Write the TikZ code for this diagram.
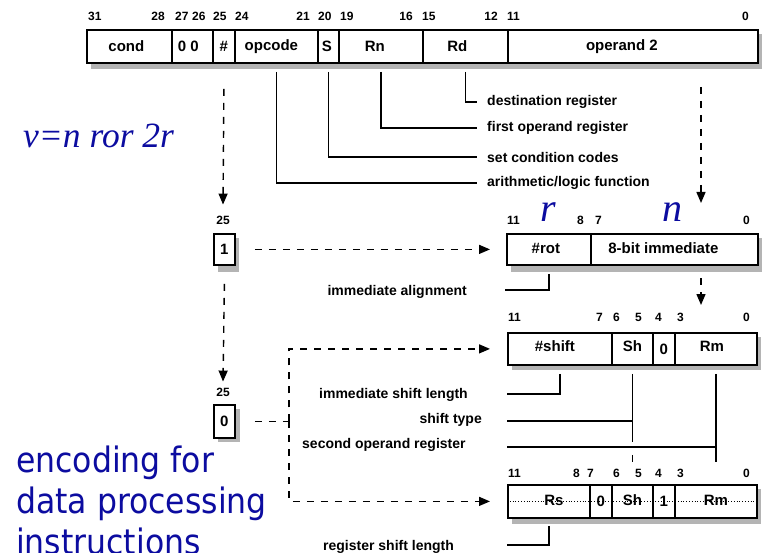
\documentclass[tikz,border=0pt]{standalone}
\usepackage{fontspec}
\setmainfont{Liberation Sans}
\newfontfamily\formulaserif{Liberation Serif}
\newfontfamily\slidesans{DejaVu Sans Condensed}
\usetikzlibrary{arrows.meta,calc}
\definecolor{slideblue}{RGB}{12,12,160}
\definecolor{shadowgrey}{RGB}{180,180,180}

\tikzset{
  fld/.style={draw, line width=1.8pt, fill=white, inner sep=0pt, anchor=north west,
    font=\fontsize{15}{17}\selectfont\bfseries},
  bit/.style={inner sep=0pt, font=\fontsize{12}{14}\selectfont\bfseries},
  ann/.style={inner sep=0pt, font=\fontsize{14}{16}\selectfont\bfseries},
  lead/.style={line width=1.4pt},
  dashlink/.style={line width=1.4pt, dash pattern=on 7pt off 7pt},
  dasharrow/.style={dashlink, -{Triangle[length=11pt,width=9pt]}},
  dropshadow/.style={fill=shadowgrey, draw=none},
  bluetext/.style={text=slideblue, inner sep=0pt},
}

\begin{document}
\begin{tikzpicture}[x=1pt,y=-1pt]
\useasboundingbox (0,0) rectangle (762,553);
\fill[white] (0,0) rectangle (762,553);

% drop shadows under the field rows
\fill[dropshadow] (91,34) rectangle (762,69);
\fill[dropshadow] (511,238) rectangle (762,272);
\fill[dropshadow] (218,238) rectangle (239,272);
\fill[dropshadow] (218,409) rectangle (240,442);
\fill[dropshadow] (512,337) rectangle (761,370);
\fill[dropshadow] (512,489) rectangle (761,524);

% instruction word
\node[fld,minimum width=85pt,minimum height=33pt]  (cond)  at (86,29)  {cond\hspace*{6pt}};
\node[fld,minimum width=41pt,minimum height=33pt]  (zz)    at (171,29) {0 0\hspace*{8pt}};
\node[fld,minimum width=22pt,minimum height=33pt]  (hash)  at (212,29) {\#};
\node[fld,minimum width=83pt,minimum height=33pt]  (opc)   at (234,29) {opcode\hspace*{10pt}};
\node[fld,minimum width=21pt,minimum height=33pt]  (sbit)  at (317,29) {S\hspace*{3pt}};
\node[fld,minimum width=84pt,minimum height=33pt]  (rn)    at (338,29) {Rn\hspace*{12pt}};
\node[fld,minimum width=85pt,minimum height=33pt]  (rd)    at (422,29) {Rd\hspace*{16pt}};
\node[fld,minimum width=250pt,minimum height=33pt] (optwo) at (507,29) {operand 2\hspace*{22pt}};

\node[bit,anchor=west] (t31) at (88,16)  {31};
\node[bit,anchor=east] (t28) at (165,16) {28};
\node[bit,anchor=west] (t27) at (175,16) {27};
\node[bit,anchor=west] (t26) at (192,16) {26};
\node[bit,anchor=west] (t25) at (213,16) {25};
\node[bit,anchor=west] (t24) at (235,16) {24};
\node[bit,anchor=east] (t21) at (310,16) {21};
\node[bit,anchor=west] (t20) at (318,16) {20};
\node[bit,anchor=west] (t19) at (340,16) {19};
\node[bit,anchor=east] (t16) at (413,16) {16};
\node[bit,anchor=west] (t15) at (422,16) {15};
\node[bit,anchor=east] (t12) at (498,16) {12};
\node[bit,anchor=west] (t11) at (507,16) {11};
\node[bit,anchor=east] (t0)  at (749,16) {0};

% field descriptions
\node[ann,anchor=west] (lblDest)  at (487,102) {destination register};
\node[ann,anchor=west] (lblFirst) at (487,128) {first operand register};
\node[ann,anchor=west] (lblSetcc) at (487,157) {set condition codes};
\node[ann,anchor=west] (lblAlu)   at (487,183) {arithmetic/logic function};
\coordinate (ldDest)  at (477,102);
\coordinate (ldFirst) at (477,128);
\coordinate (ldSetcc) at (477,157);
\coordinate (ldAlu)   at (477,183);
\draw[lead] ([yshift=-8pt]rd.south)   |- (ldDest);
\draw[lead] ([yshift=-8pt]rn.south)   |- (ldFirst);
\draw[lead] ([yshift=-8pt]sbit.south) |- (ldSetcc);
\draw[lead] ([yshift=-8pt]opc.south)  |- (ldAlu);

% formula
\node[bluetext,anchor=base west,font=\formulaserif\itshape\fontsize{35.5}{40}\selectfont]
  (formula) at (23,148) {v=n ror 2r};

% immediate operand
\node[fld,minimum width=21pt,minimum height=31pt] (one) at (213,233) {1};
\node[bit] (i25) at (223,220) {25};
\node[fld,minimum width=84pt,minimum height=31pt]  (rot) at (506,233) {\raisebox{3pt}{\#rot}\hspace*{6pt}};
\node[fld,minimum width=167pt,minimum height=31pt] (imm) at (590,233) {\raisebox{3pt}{8-bit immediate}\hspace*{22pt}};
\node[bit,anchor=west] (r11) at (507,220) {11};
\node[bit,anchor=east] (r8)  at (584,220) {8};
\node[bit,anchor=west] (r7)  at (595,220) {7};
\node[bit,anchor=east] (r0)  at (750,220) {0};
\node[bluetext,anchor=base,font=\formulaserif\itshape\fontsize{40}{44}\selectfont] (rsym) at (548,222) {r};
\node[bluetext,anchor=base,font=\formulaserif\itshape\fontsize{40}{44}\selectfont] (nsym) at (672,222) {n};

\coordinate (opdrop) at (701,87);
\coordinate (opland) at (701,203);
\draw[dasharrow] ([yshift=-25pt]hash.south) -- ([yshift=11pt]i25.north);
\draw[dasharrow] (opdrop) -- (opland);
\draw[dasharrow] ([xshift=19pt]one.east) -- ([xshift=-16pt]rot.west);

\node[ann,anchor=east] (lblAlign) at (467,292) {immediate alignment};
\coordinate (ldAlign) at (505,290);
\draw[lead] ([yshift=-8pt]rot.south) |- (ldAlign);

\coordinate (immdrop) at (701,278);
\coordinate (immland) at (701,305);
\draw[dasharrow] (immdrop) -- (immland);

% register operand, immediate shift
\node[fld,minimum width=104pt,minimum height=32pt] (shiftamt) at (507,332) {\raisebox{5pt}{\#shift}\hspace*{10pt}};
\node[fld,minimum width=41pt,minimum height=32pt]  (sh)       at (611,332) {\raisebox{5pt}{Sh}};
\node[fld,minimum width=22pt,minimum height=32pt]  (zbit)     at (652,332) {\raisebox{-2pt}{0}};
\node[fld,minimum width=82pt,minimum height=32pt]  (rm)       at (674,332) {\raisebox{5pt}{Rm}\hspace*{8pt}};
\node[bit,anchor=west] (s11) at (508,317) {11};
\node[bit,anchor=east] (s7)  at (603,317) {7};
\node[bit,anchor=west] (s6)  at (613,317) {6};
\node[bit,anchor=west] (s5)  at (635,317) {5};
\node[bit,anchor=west] (s4)  at (655,317) {4};
\node[bit,anchor=west] (s3)  at (677,317) {3};
\node[bit,anchor=east] (s0)  at (750,317) {0};

\node[ann,anchor=west] (lblImmShift) at (319,395) {immediate shift length};
\node[ann,anchor=east] (lblShType)   at (482,420) {shift type};
\node[ann,anchor=west] (lblSecond)   at (302,445) {second operand register};
\coordinate (ldImmShift) at (507,394);
\coordinate (ldShType)   at (507,421);
\coordinate (ldSecond)   at (507,447);
\draw[lead] ([yshift=-8pt]shiftamt.south) |- (ldImmShift);
\draw[lead] ([yshift=-8pt]sh.south) -- ([yshift=-76pt]sh.south);
\draw[lead] ([yshift=-89pt]sh.south) -- ([yshift=-96pt]sh.south);
\draw[lead] (ldShType) -- (ldShType -| sh.south);
\draw[lead] ([yshift=-8pt]rm.south) -- ([yshift=-96pt]rm.south);
\draw[lead] (ldSecond) -- (ldSecond -| rm.south);

% register operand, register shift
\node[fld,minimum width=21pt,minimum height=33pt] (zero) at (213,404) {0};
\node[bit] (z25) at (223,392) {25};
\draw[dasharrow] ([yshift=-18pt]one.south) -- ([yshift=6pt]z25.north);

\node[fld,minimum width=82pt,minimum height=33pt] (rs)   at (507,484) {\hspace*{10pt}\raisebox{2pt}{Rs}};
\node[fld,minimum width=22pt,minimum height=33pt] (zthr) at (589,484) {0};
\node[fld,minimum width=41pt,minimum height=33pt] (shr)  at (611,484) {\raisebox{2pt}{Sh}};
\node[fld,minimum width=22pt,minimum height=33pt] (othr) at (652,484) {1};
\node[fld,minimum width=82pt,minimum height=33pt] (rmr)  at (674,484) {\raisebox{2pt}{Rm}};
\draw[line width=0.8pt, dotted] (rs.west) -- (rmr.east);
\node[bit,anchor=west] (u11) at (508,473) {11};
\node[bit,anchor=east] (u8)  at (580,473) {8};
\node[bit,anchor=west] (u7)  at (587,473) {7};
\node[bit,anchor=west] (u6)  at (613,473) {6};
\node[bit,anchor=west] (u5)  at (635,473) {5};
\node[bit,anchor=west] (u4)  at (655,473) {4};
\node[bit,anchor=west] (u3)  at (677,473) {3};
\node[bit,anchor=east] (u0)  at (750,473) {0};

\node[ann,anchor=west] (lblRegShift) at (323,547) {register shift length};
\coordinate (ldRegShift) at (507,545);
\draw[lead] ([yshift=-7pt]rs.south) |- (ldRegShift);

% paths from the # bit = 0 to both register forms
\coordinate (split) at ([xshift=53pt]zero.east);
\draw[dashlink] ([xshift=19pt]zero.east) -- (split);
\draw[dasharrow] (split) |- ([xshift=-17pt]shiftamt.west);
\draw[dasharrow] (split) |- ([xshift=-17pt]rs.west);

% title
\node[bluetext,anchor=base west,font=\slidesans\fontsize{35}{41}\selectfont] (title1) at (16,472) {encoding for};
\node[bluetext,anchor=base west,font=\slidesans\fontsize{35}{41}\selectfont] (title2) at (16,513) {data processing};
\node[bluetext,anchor=base west,font=\slidesans\fontsize{35}{41}\selectfont] (title3) at (16,554) {instructions};
\end{tikzpicture}
\end{document}
